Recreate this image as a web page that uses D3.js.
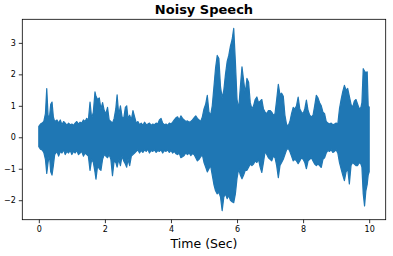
<!DOCTYPE html>
<html>
<head>
<meta charset="utf-8">
<script src="https://cdn.jsdelivr.net/npm/d3@7"></script>
<style>
  html, body { margin: 0; padding: 0; background: #fff; }
  svg { display: block; }
  text { font-family: "DejaVu Sans", sans-serif; }
</style>
</head>
<body>
<svg id="chart" width="393" height="256"></svg>
<script>
// Envelope of the noisy speech waveform (time in seconds, upper / lower amplitude)
const timeSec = [0.00,0.05,0.10,0.15,0.20,0.24,0.28,0.32,0.36,0.40,0.44,0.48,0.55,0.60,0.65,0.70,0.75,0.80,0.85,0.90,0.95,1.00,1.05,1.10,1.15,1.20,1.25,1.30,1.35,1.40,1.45,1.50,1.55,1.60,1.65,1.70,1.73,1.78,1.83,1.88,1.93,1.98,2.03,2.08,2.13,2.18,2.23,2.28,2.33,2.37,2.42,2.47,2.52,2.57,2.62,2.66,2.70,2.75,2.80,2.85,2.90,2.95,3.00,3.05,3.10,3.15,3.20,3.25,3.30,3.35,3.40,3.45,3.50,3.55,3.60,3.65,3.70,3.75,3.80,3.85,3.90,3.95,4.00,4.05,4.10,4.15,4.20,4.25,4.30,4.35,4.40,4.45,4.50,4.55,4.60,4.65,4.70,4.75,4.80,4.85,4.90,4.95,5.00,5.05,5.10,5.15,5.20,5.25,5.30,5.35,5.40,5.45,5.50,5.55,5.60,5.65,5.70,5.75,5.80,5.85,5.90,5.95,6.00,6.05,6.10,6.15,6.20,6.25,6.30,6.35,6.40,6.45,6.50,6.55,6.60,6.65,6.70,6.75,6.80,6.85,6.90,6.95,7.00,7.05,7.10,7.15,7.20,7.25,7.30,7.35,7.40,7.45,7.50,7.55,7.60,7.65,7.70,7.75,7.80,7.85,7.90,7.95,8.00,8.05,8.10,8.15,8.20,8.25,8.30,8.35,8.40,8.45,8.50,8.55,8.60,8.65,8.70,8.75,8.80,8.85,8.90,8.95,9.00,9.05,9.10,9.15,9.20,9.25,9.30,9.35,9.40,9.45,9.50,9.55,9.60,9.65,9.70,9.75,9.78,9.82,9.86,9.90,9.94,9.97,10.00];
const upper = [0.35,0.42,0.45,0.50,0.75,1.55,0.70,0.60,1.05,1.12,0.65,0.50,0.55,0.45,0.55,0.40,0.50,0.45,0.38,0.45,0.40,0.42,0.38,0.45,0.50,0.42,0.48,0.45,0.55,0.50,0.60,0.55,1.12,0.60,0.80,1.44,1.30,1.20,1.25,0.90,1.10,0.85,0.75,0.95,0.55,0.50,0.45,0.60,0.90,1.35,0.70,1.00,0.65,0.60,0.95,1.00,0.60,0.70,0.55,0.85,0.65,0.45,0.50,0.40,0.45,0.38,0.48,0.40,0.42,0.45,0.38,0.42,0.40,0.45,0.42,0.55,0.60,0.45,0.40,0.42,0.38,0.45,0.42,0.48,0.55,0.62,0.65,0.55,0.68,0.60,0.55,0.50,0.52,0.48,0.50,0.55,0.62,0.68,0.60,0.55,0.50,0.65,0.90,1.05,1.33,0.80,0.70,1.00,1.60,2.20,2.60,2.50,1.60,1.25,1.50,2.00,2.40,2.60,2.90,3.10,3.46,2.40,1.20,0.90,1.60,2.24,1.80,1.40,1.87,1.75,1.10,0.90,1.00,1.20,1.28,1.10,1.15,1.20,0.90,0.80,0.75,0.85,0.85,0.80,0.70,0.75,1.20,1.68,1.35,1.40,1.30,0.70,0.40,0.37,0.50,0.75,0.95,0.90,1.00,1.28,0.90,0.80,0.75,0.90,1.18,0.85,0.70,0.65,0.70,1.00,1.33,1.25,1.10,1.00,0.80,0.75,0.50,0.45,0.42,0.45,0.40,0.42,0.45,0.42,0.90,1.20,1.45,1.65,1.50,1.55,1.30,1.05,0.95,1.15,1.20,1.05,0.90,0.95,1.10,2.18,2.10,2.05,2.08,1.00,0.96];
const lower = [-0.30,-0.38,-0.40,-0.48,-0.70,-1.15,-0.80,-0.55,-1.10,-1.20,-0.90,-0.55,-0.45,-0.60,-0.45,-0.50,-0.40,-0.55,-0.45,-0.50,-0.42,-0.55,-0.45,-0.50,-0.42,-0.55,-0.50,-0.45,-0.60,-0.50,-0.55,-0.60,-1.05,-0.70,-0.80,-1.10,-1.33,-0.90,-1.00,-1.05,-0.70,-0.55,-0.60,-0.65,-0.55,-0.70,-1.22,-0.75,-0.80,-0.95,-0.70,-0.90,-0.60,-0.75,-0.85,-0.95,-0.70,-0.90,-0.60,-0.55,-0.50,-0.45,-0.40,-0.50,-0.42,-0.48,-0.40,-0.45,-0.38,-0.50,-0.42,-0.45,-0.40,-0.48,-0.42,-0.45,-0.40,-0.50,-0.42,-0.45,-0.40,-0.48,-0.42,-0.50,-0.45,-0.52,-0.55,-0.50,-0.65,-0.62,-0.58,-0.50,-0.55,-0.50,-0.58,-0.52,-0.55,-0.65,-0.75,-0.70,-0.62,-0.55,-0.80,-0.95,-1.10,-1.00,-0.90,-1.20,-1.50,-1.70,-1.80,-1.75,-1.90,-2.33,-1.90,-1.80,-1.95,-1.85,-2.00,-2.05,-2.08,-1.80,-1.30,-1.00,-1.20,-1.32,-1.20,-1.05,-1.05,-0.95,-0.85,-0.90,-0.85,-0.75,-0.80,-0.70,-0.95,-1.12,-0.80,-0.45,-0.55,-0.65,-0.70,-0.75,-0.60,-0.65,-0.90,-1.28,-0.90,-0.80,-0.70,-0.55,-0.40,-0.35,-0.45,-0.60,-0.75,-0.70,-0.75,-0.84,-0.75,-0.65,-0.70,-0.80,-1.00,-0.75,-0.70,-0.65,-0.75,-0.85,-0.90,-0.85,-0.90,-0.96,-0.70,-0.65,-0.50,-0.42,-0.45,-0.40,-0.48,-0.45,-0.40,-0.50,-0.80,-1.00,-1.20,-1.38,-1.10,-1.00,-1.48,-0.90,-0.80,-0.85,-0.90,-0.90,-0.80,-0.85,-0.95,-1.80,-2.18,-1.70,-1.50,-1.20,-1.10];
const xTicks = [0, 2, 4, 6, 8, 10];
const yTicks = [-2, -1, 0, 1, 2, 3];
const titleText = "Noisy Speech";
const xLabelText = "Time (Sec)";

const data = timeSec.map((t, i) => ({ t, hi: upper[i], lo: lower[i] }));

const svg = d3.select("#chart");
const L = 22.3, R = 385.7, T = 19.3, B = 219.7;

const x = d3.scaleLinear().domain([-0.5, 10.5]).range([L, R]);
const yMin = d3.min(lower), yMax = d3.max(upper);
const pad = (yMax - yMin) * 0.05;
const y = d3.scaleLinear().domain([yMin - pad, yMax + pad]).range([B, T]);

svg.append("rect").attr("width", 393).attr("height", 256).attr("fill", "#fff");

const area = d3.area()
  .x(d => x(d.t))
  .y0(d => y(d.lo))
  .y1(d => y(d.hi));

svg.append("path")
  .datum(data)
  .attr("d", area)
  .attr("fill", "#1f77b4")
  .attr("stroke", "#1f77b4")
  .attr("stroke-width", 1.2)
  .attr("stroke-linejoin", "round");

// axes
const xAxis = d3.axisBottom(x).tickValues(xTicks).tickSize(3.5).tickPadding(3).tickFormat(d3.format("d"));
const yAxis = d3.axisLeft(y).tickValues(yTicks).tickSize(3.5).tickPadding(3)
  .tickFormat(d => d < 0 ? "\u2212" + Math.abs(d) : String(d));

const gx = svg.append("g").attr("transform", `translate(0,${B})`).call(xAxis);
const gy = svg.append("g").attr("transform", `translate(${L},0)`).call(yAxis);
[gx, gy].forEach(g => {
  g.select(".domain").remove();
  g.selectAll(".tick line").attr("stroke", "#000").attr("stroke-width", 0.8);
  g.selectAll(".tick text").attr("font-family", "DejaVu Sans").attr("font-size", 8).attr("fill", "#000");
});

// frame
svg.append("rect")
  .attr("x", L).attr("y", T).attr("width", R - L).attr("height", B - T)
  .attr("fill", "none").attr("stroke", "#000").attr("stroke-width", 0.8);

svg.append("text")
  .attr("x", (L + R) / 2).attr("y", 13.8)
  .attr("text-anchor", "middle")
  .attr("font-size", 13).attr("font-weight", "bold")
  .text(titleText);

svg.append("text")
  .attr("x", (L + R) / 2).attr("y", 248)
  .attr("text-anchor", "middle")
  .attr("font-size", 12.5)
  .text(xLabelText);
</script>
</body>
</html>
